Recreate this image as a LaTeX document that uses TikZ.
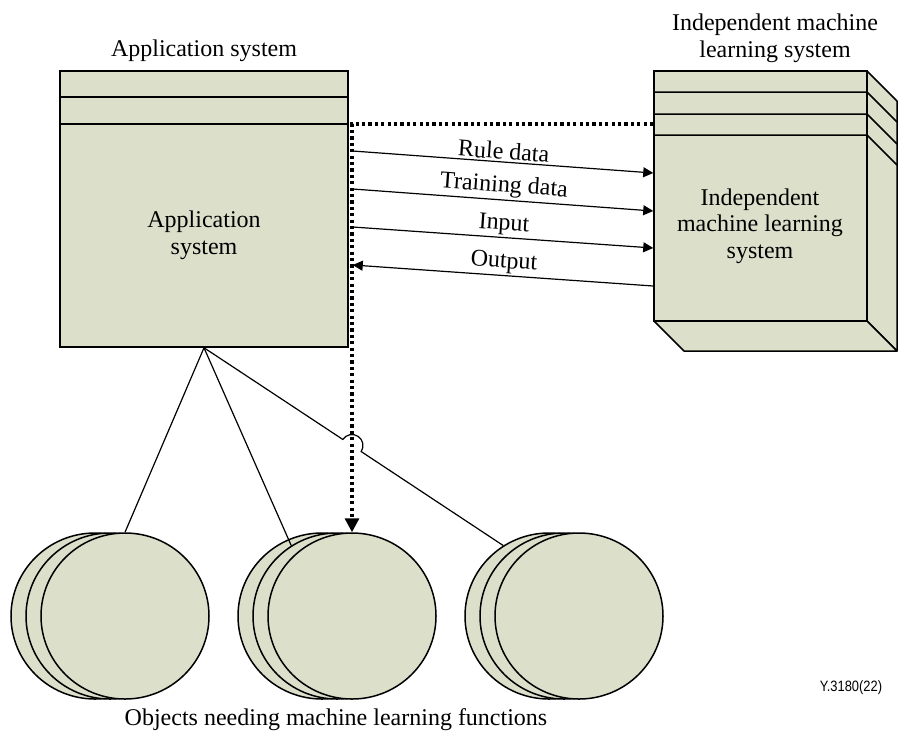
\documentclass[tikz,border=0pt]{standalone}
\usepackage{fontspec}
\setmainfont{Liberation Serif}
\newfontfamily\labelsans{Liberation Sans}
\usetikzlibrary{arrows.meta,shapes.geometric,calc}

\definecolor{boxfill}{RGB}{220,224,203}

\begin{document}
\begin{tikzpicture}[x=0.5pt,y=-0.5pt,
  every node/.style={font=\fontsize{12}{13.3}\selectfont},
  box/.style={draw,line width=0.75pt,fill=boxfill,inner sep=0pt},
  disc/.style={ellipse,draw,line width=0.75pt,fill=boxfill,inner sep=0pt,
               minimum width=84pt,minimum height=83pt},
  txt/.style={align=center,inner sep=0pt},
  flow/.style={line width=0.6pt,-{Triangle[width=5pt,length=5pt]}},
  link/.style={line width=0.6pt},
  dotline/.style={line width=1.6pt,dash pattern=on 1.6pt off 1.6pt,
                  -{Triangle[width=7pt,length=7pt]}}]

\useasboundingbox (0,0) rectangle (898,735);

% ---------- application system ----------
\node[box,minimum width=144pt,minimum height=138pt] (app) at (204,209) {};
\draw[line width=0.75pt] (60,97) -- (348,97);
\draw[line width=0.75pt] (60,124) -- (348,124);
\node[txt] (apptitle) at (204,51) {Application system};
\node[txt] (apptext) at (204,235) {Application\\system};

% ---------- independent machine learning system (3D block) ----------
\draw[line width=0.75pt,fill=boxfill,line join=round]
  (867,71) -- (897,101) -- (897,351) -- (867,321) -- cycle;
\draw[line width=0.75pt,fill=boxfill,line join=round]
  (654,321) -- (867,321) -- (897,351) -- (684,351) -- cycle;
\node[box,minimum width=106.5pt,minimum height=125pt] (ml) at (760.5,196) {};
\foreach \yy in {92,114,135}{
  \draw[line width=0.75pt] (654,\yy) -- (867,\yy) -- ++(30,30);
}
\node[txt] (mltitle) at (775,38) {Independent machine\\learning system};
\node[txt] (mltext) at (760,226) {Independent\\machine learning\\system};

% ---------- objects (stacked discs) ----------
\foreach \name/\cx in {s1/125,s2/352,s3/579}{
  \node[disc] (\name b) at ($(\cx,616)+(-30,0)$) {};
  \node[disc] (\name m) at ($(\cx,616)+(-15,0)$) {};
  \node[disc] (\name f) at (\cx,616) {};
}
\node[txt] (objlabel) at (336,720) {Objects needing machine learning functions};

% ---------- data flows ----------
\draw[flow] (app.east |- 0,151) ++(4,0) -- (ml.west |- 0,173)
  node[midway,above=1pt,sloped,inner sep=0pt] (ruletxt) {Rule data};
\draw[flow] (app.east |- 0,189) ++(4,0) -- (ml.west |- 0,211)
  node[midway,above=1pt,sloped,inner sep=0pt] (traintxt) {Training data};
\draw[flow] (app.east |- 0,227) ++(4,0) -- (ml.west |- 0,248)
  node[midway,above=1pt,sloped,inner sep=0pt] (inputtxt) {Input};
\draw[flow] (ml.west |- 0,286) -- ($(app.east |- 0,265)+(4,0)$)
  node[midway,above=1pt,sloped,inner sep=0pt] (outputtxt) {Output};

% ---------- dotted control path ----------
\draw[dotline] (ml.west |- 0,124) -- (352,124) -- (s2f.north);

% ---------- links to objects ----------
\coordinate (jump) at (352,445.5);
\draw[link] (app.south) -- (s1f.north);
\draw[link] (app.south) -- (s2m.123);
\draw[link] (app.south) -- ([shift={(213.4:11)}]jump)
  arc[start angle=213.4,end angle=393.4,radius=11] -- (s3b.123);

% ---------- figure number ----------
\node[txt,font=\labelsans\fontsize{7.5}{9}\selectfont] (fignum) at (851,688)
  {\scalebox{0.86}[1]{Y.3180(22)}};
\end{tikzpicture}
\end{document}
